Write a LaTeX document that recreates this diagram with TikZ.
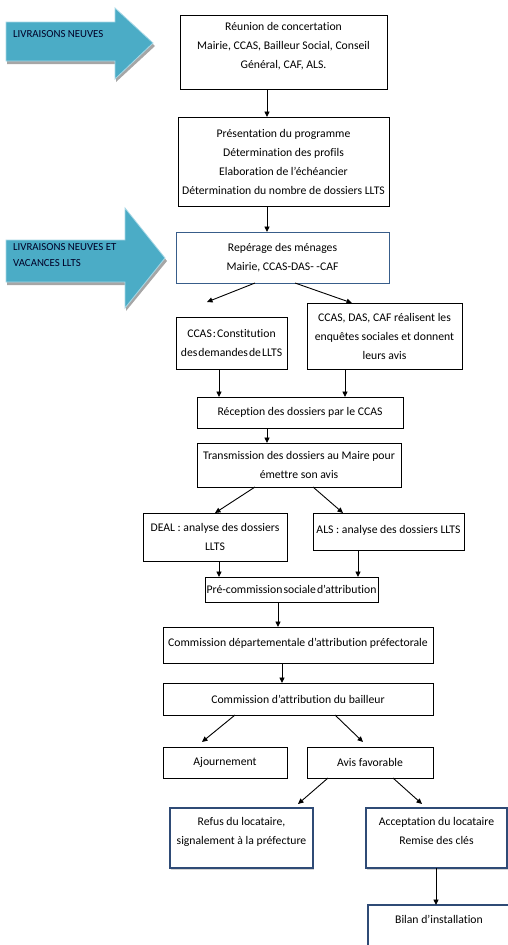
\documentclass[tikz,border=0pt]{standalone}
\usepackage{fontspec}
\setmainfont[Ligatures=NoCommon]{Carlito}
\usetikzlibrary{arrows.meta,calc,shadows}
\definecolor{tealA}{HTML}{4BACC6}
\definecolor{tealL}{HTML}{A8D8E6}
\definecolor{navyB}{HTML}{385D8A}
\definecolor{navyT}{HTML}{2F4B76}
\newcommand\mytightspace{\spaceskip=0.09em plus 0.02em\relax}
\begin{document}
\begin{tikzpicture}[x=1pt,y=-1pt,
  box/.style={draw, line width=0.9, inner sep=0, outer sep=0, align=center,
    fill=white, font=\fontsize{11.7}{19}\selectfont},
  tight/.style={font=\fontsize{11.7}{19}\selectfont\mytightspace},
  bluebox/.style={box, draw=navyB, line width=1},
  thickbox/.style={box, draw=navyT, line width=2.6,
    drop shadow={shadow xshift=1.2pt, shadow yshift=-1.8pt, opacity=0.35}},
  arr/.style={line width=0.9, -{Triangle[length=5.5pt,width=5pt]}},
  bigarrow/.style={fill=tealA, draw=tealL, line width=0.8},
  bigshadow/.style={fill=black!35},
  arrtext/.style={inner sep=0, align=left, text=black!85!blue,
    font=\fontsize{10.8}{16}\selectfont}]
\useasboundingbox (0,0) rectangle (508,945);
\clip (0,0) rectangle (508,945);

% big blue arrows
\fill[bigshadow] (7,25) -- (116,25) -- (116,11) -- (155,46) -- (116,82) -- (116,64) -- (7,64) -- cycle;
\draw[bigarrow] (6,22) -- (115,22) -- (115,8) -- (153,43) -- (115,79) -- (115,61) -- (6,61) -- cycle;
\node[arrtext, anchor=west] (t1) at (13,34) {LIVRAISONS NEUVES};

\fill[bigshadow] (7,243) -- (126,243) -- (126,211) -- (167,261) -- (126,311) -- (126,285) -- (7,285) -- cycle;
\draw[bigarrow] (6,240) -- (125,240) -- (125,208) -- (165,258) -- (125,308) -- (125,282) -- (6,282) -- cycle;
\node[arrtext, anchor=west] (t2) at (13,255) {LIVRAISONS NEUVES ET\\VACANCES LLTS};

% boxes
\node[box, minimum width=207, minimum height=74, text depth=13pt] (b1) at (283.5,52)
  {Réunion de concertation\\Mairie, CCAS, Bailleur Social, Conseil\\Général, CAF, ALS.};
\node[box, minimum width=211, minimum height=89] (b2) at (283.5,161.5)
  {Présentation du programme\\Détermination des profils\\Elaboration de l’échéancier\\Détermination du nombre de dossiers LLTS};
\node[bluebox, minimum width=213, minimum height=51] (b3) at (282.5,257.5)
  {Repérage des ménages\\Mairie, CCAS-DAS- -CAF};
\node[box, tight, minimum width=111, minimum height=52] (b4) at (231.5,343)
  {CCAS : Constitution\\des demandes de LLTS};
\node[box, minimum width=155, minimum height=66] (b5) at (384.5,336)
  {CCAS, DAS, CAF réalisent les\\enquêtes sociales et donnent\\leurs avis};
\node[box, minimum width=206, minimum height=31] (b6) at (300,412.5)
  {Réception des dossiers par le CCAS};
\node[box, minimum width=204, minimum height=44] (b7) at (299,465)
  {Transmission des dossiers au Maire pour\\émettre son avis};
\node[box, minimum width=144, minimum height=48] (b8) at (215,537)
  {DEAL : analyse des dossiers\\LLTS};
\node[box, minimum width=151, minimum height=37, text depth=5pt] (b9) at (388.5,531.5)
  {ALS : analyse des dossiers LLTS};
\node[box, tight, minimum width=173, minimum height=25] (b10) at (291.5,589.5)
  {Pré-commission sociale d’attribution};
\node[box, minimum width=270, minimum height=36, text depth=5pt] (b11) at (298,645)
  {Commission départementale d’attribution préfectorale};
\node[box, minimum width=270, minimum height=32] (b12) at (298,699)
  {Commission d’attribution du bailleur};
\node[box, minimum width=124, minimum height=31] (b13) at (225,762.5) {Ajournement};
\node[box, minimum width=126, minimum height=31] (b14) at (370,762.5) {Avis favorable};
\node[thickbox, minimum width=143, minimum height=60, text depth=14pt] (b15) at (241.5,838)
  {Refus du locataire,\\signalement à la préfecture};
\node[thickbox, minimum width=141, minimum height=60, text depth=14pt] (b16) at (436.5,838)
  {Acceptation du locataire\\Remise des clés};
\node[thickbox, minimum width=142, minimum height=50, text depth=22pt] (b17) at (439,930)
  {Bilan d’installation};

% connectors
\draw[arr] (b1.south -| 267,0) -- (b2.north -| 267,0);
\draw[arr] (b2.south -| 267,0) -- (b3.north -| 267,0);
\draw[arr] (b3.south -| 255,0) -- ($(b4.north)+(-24.5,-15)$);
\draw[arr] (b3.south -| 295,0) -- (b5.north -| 352,0);
\draw[arr] (b4.south -| 219,0) -- (b6.north -| 219,0);
\draw[arr] (b5.south -| 345,0) -- (b6.north -| 345,0);
\draw[arr] (b6.south -| 267,0) -- (b7.north -| 267,0);
\draw[arr] (b7.south -| 255,0) -- (b8.north -| 215,0);
\draw[arr] (b7.south -| 313,0) -- (b9.north -| 343,0);
\draw[arr] (b8.south -| 219,0) -- (b10.north -| 219,0);
\draw[arr] (b9.south -| 358,0) -- (b10.north -| 358,0);
\draw[arr] (b10.south -| 278,0) -- (b11.north -| 278,0);
\draw[arr] (b11.south -| 282,0) -- (b12.north -| 282,0);
\draw[arr] (b12.south -| 235,0) -- ($(b13.north -| 202,0)+(0,-5)$);
\draw[arr] (b12.south -| 335,0) -- ($(b14.north -| 363,0)+(0,-5)$);
\draw[arr] (b14.south -| 328,0) -- ($(b15.north -| 298,0)+(0,-4)$);
\draw[arr] (b14.south -| 393,0) -- ($(b16.north -| 422,0)+(0,-4)$);
\draw[arr] (b16.south -| 436,0) -- (b17.north -| 436,0);
\end{tikzpicture}
\end{document}
